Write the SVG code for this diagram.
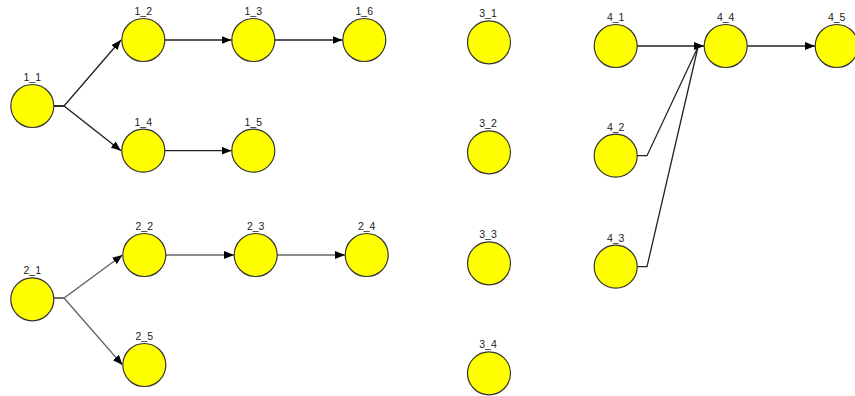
<svg xmlns="http://www.w3.org/2000/svg" width="855" height="396" viewBox="0 0 855 396">
<defs>
<style>
.n circle{fill:#ffff00;stroke:#333;stroke-width:1.2}
.n text{font-family:"Liberation Sans",Arial,sans-serif;font-size:10.5px;fill:#222;text-anchor:middle}
.e{fill:none;stroke:#222;stroke-width:1.3}
.g{fill:none;stroke:#666;stroke-width:1.3}
</style>
<marker id="a" viewBox="0 0 10 8" refX="10" refY="4" markerWidth="10" markerHeight="8" markerUnits="userSpaceOnUse" orient="auto">
<path d="M0,0 L10,4 L0,8 z" fill="#000"/>
</marker>
</defs>
<rect width="855" height="396" fill="#fff"/>
<g id="connectors">
<path class="e" d="M54,106 H64 L121,40" marker-end="url(#a)"/>
<path class="e" d="M54,106 H64 L121,150.7" marker-end="url(#a)"/>
<path class="e" d="M165,40 H231.5" marker-end="url(#a)"/>
<path class="e" d="M275,40 H342.5" marker-end="url(#a)"/>
<path class="e" d="M165,150.7 H231.5" marker-end="url(#a)"/>
<path class="g" d="M54,298 H64 L122.5,255" marker-end="url(#a)"/>
<path class="g" d="M54,298 H64 L122.5,365" marker-end="url(#a)"/>
<path class="g" d="M166,255 H234" marker-end="url(#a)"/>
<path class="g" d="M277,255 H345" marker-end="url(#a)"/>
<path class="e" d="M637,46 H704" marker-end="url(#a)"/>
<path class="e" d="M637,155.7 H647 L698,47"/>
<path class="e" d="M637,266.7 H647 L698,47"/>
<path class="e" d="M747,46 H815" marker-end="url(#a)"/>
</g>
<g id="n1_1" class="n"><circle cx="32.3" cy="106" r="21.5"/><text x="32.3" y="81">1_1</text></g>
<g id="n1_2" class="n"><circle cx="143.3" cy="40" r="21.5"/><text x="143.3" y="15">1_2</text></g>
<g id="n1_3" class="n"><circle cx="253.3" cy="40" r="21.5"/><text x="253.3" y="15">1_3</text></g>
<g id="n1_6" class="n"><circle cx="364.3" cy="40" r="21.5"/><text x="364.3" y="15">1_6</text></g>
<g id="n1_4" class="n"><circle cx="143.3" cy="150.7" r="21.5"/><text x="143.3" y="125.7">1_4</text></g>
<g id="n1_5" class="n"><circle cx="253.3" cy="150.7" r="21.5"/><text x="253.3" y="125.7">1_5</text></g>
<g id="n2_1" class="n"><circle cx="32.3" cy="299.3" r="21.5"/><text x="32.3" y="274.3">2_1</text></g>
<g id="n2_2" class="n"><circle cx="144.3" cy="255" r="21.5"/><text x="144.3" y="230">2_2</text></g>
<g id="n2_3" class="n"><circle cx="255.7" cy="255" r="21.5"/><text x="255.7" y="230">2_3</text></g>
<g id="n2_4" class="n"><circle cx="366.7" cy="255" r="21.5"/><text x="366.7" y="230">2_4</text></g>
<g id="n2_5" class="n"><circle cx="144.3" cy="365" r="21.5"/><text x="144.3" y="340">2_5</text></g>
<g id="n3_1" class="n"><circle cx="489" cy="42.3" r="21.5"/><text x="488" y="17.3">3_1</text></g>
<g id="n3_2" class="n"><circle cx="489" cy="152.3" r="21.5"/><text x="488" y="127.3">3_2</text></g>
<g id="n3_3" class="n"><circle cx="489" cy="263.3" r="21.5"/><text x="488" y="238.3">3_3</text></g>
<g id="n3_4" class="n"><circle cx="489" cy="373.3" r="21.5"/><text x="488" y="348.3">3_4</text></g>
<g id="n4_1" class="n"><circle cx="615.7" cy="46" r="21.5"/><text x="615.7" y="21">4_1</text></g>
<g id="n4_2" class="n"><circle cx="615.7" cy="155.7" r="21.5"/><text x="615.7" y="130.7">4_2</text></g>
<g id="n4_3" class="n"><circle cx="615.7" cy="266.7" r="21.5"/><text x="615.7" y="241.7">4_3</text></g>
<g id="n4_4" class="n"><circle cx="725.7" cy="46" r="21.5"/><text x="725.7" y="21">4_4</text></g>
<g id="n4_5" class="n"><circle cx="836.7" cy="46" r="21.5"/><text x="836.7" y="21">4_5</text></g>
</svg>
